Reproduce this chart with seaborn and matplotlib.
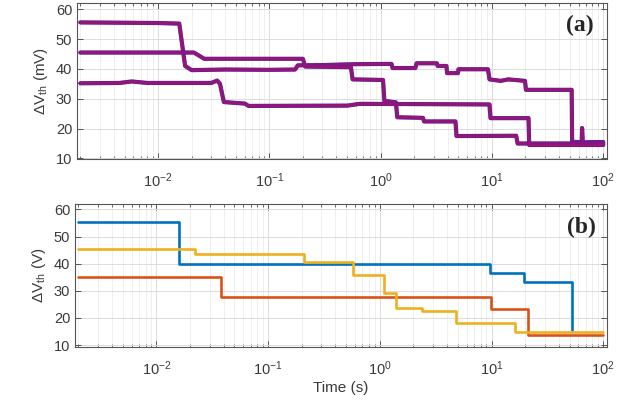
import numpy as np
import pandas as pd
import matplotlib
matplotlib.use("Agg")
import matplotlib.pyplot as plt
import seaborn as sns
from matplotlib.ticker import LogLocator

# Panel (a): measured traces (time in s, dVth in mV)
a1_t = [0.002, 0.01, 0.0155, 0.0175, 0.02, 0.04, 0.1, 0.17, 0.18, 0.3, 0.6, 1.25, 1.28, 2.05, 2.1,
        3.2, 3.25, 3.9, 3.95, 4.95, 5.0, 9.2, 9.5, 12, 14, 19.8, 20.2, 52, 52.5, 64, 64.5, 65.5, 100]
a1_v = [55.6, 55.4, 55.2, 41, 39.6, 39.8, 39.7, 39.8, 41.2, 41.3, 41.6, 41.7, 40.3, 40.3, 41.9,
        41.9, 41.0, 41.0, 38.6, 38.6, 39.9, 39.9, 36.5, 36.0, 36.5, 36.0, 33.0, 33.0, 15.6, 15.4, 20.2, 15.4, 15.5]
a2_t = [0.002, 0.021, 0.026, 0.2, 0.21, 0.54, 0.56, 1.05, 1.08, 1.37, 1.41, 2.4, 2.45, 4.7, 4.8, 16.5, 17, 100]
a2_v = [45.5, 45.5, 43.4, 43.4, 40.8, 40.6, 36.5, 36.3, 29.3, 28.8, 23.8, 23.6, 22.4, 22.4, 17.5, 17.6, 15.0, 15.0]
a3_t = [0.002, 0.0045, 0.0058, 0.008, 0.03, 0.034, 0.036, 0.039, 0.05, 0.06, 0.065, 0.5, 0.65, 9.5, 9.7,
        21.3, 21.6, 100]
a3_v = [35.2, 35.3, 35.8, 35.3, 35.3, 36.1, 35.0, 28.9, 28.6, 28.4, 27.6, 27.7, 28.3, 28.1, 23.5,
        23.5, 14.5, 14.5]

# Panel (b): extracted step levels
b_blue_t = [0.002, 0.0159, 9.6, 19.7, 52.5]
b_blue_v = [55.5, 39.9, 36.5, 33.4, 15.5]
b_orange_t = [0.002, 0.038, 9.8, 21, 100]
b_orange_v = [35.2, 27.8, 23.2, 13.7, 13.7]
b_yellow_t = [0.002, 0.022, 0.209, 0.57, 1.1, 1.39, 2.4, 4.8, 16.2, 100]
b_yellow_v = [45.3, 43.6, 40.5, 35.8, 29.1, 23.5, 22.7, 18.0, 14.9, 14.9]

sns.set_style("ticks")
plt.rcParams['font.family'] = ['Liberation Sans', 'DejaVu Sans']
plt.rcParams['mathtext.default'] = 'regular'
plt.rcParams['axes.edgecolor'] = '#555555'
plt.rcParams['axes.linewidth'] = 0.8

fig = plt.figure(figsize=(6.35, 4.01), dpi=100)
ax1 = fig.add_axes([0.1213, 0.6027, 0.8346, 0.389])
ax2 = fig.add_axes([0.1181, 0.1354, 0.8378, 0.3559])

# blue + red traces overlapping -> purple look
for t, v in [(a1_t, a1_v), (a2_t, a2_v), (a3_t, a3_v)]:
    sns.lineplot(x=t, y=v, ax=ax1, color='#2a1fd0', lw=3.0, sort=False, estimator=None)
    sns.lineplot(x=t, y=v, ax=ax1, color='#e8102a', lw=2.6, alpha=0.55, sort=False, estimator=None)

for t, v, c in [(b_blue_t, b_blue_v, '#0072BD'), (b_orange_t, b_orange_v, '#D95319'),
                (b_yellow_t, b_yellow_v, '#EDB120')]:
    sns.lineplot(x=t, y=v, ax=ax2, color=c, lw=1.9, drawstyle='steps-post', sort=False, estimator=None)

for ax, ylim in [(ax1, (9.7, 62)), (ax2, (9.4, 62))]:
    ax.set_xscale('log')
    ax.set_xlim(0.00187, 108)
    ax.set_ylim(*ylim)
    ax.set_yticks([10, 20, 30, 40, 50, 60])
    ax.xaxis.set_major_locator(LogLocator(base=10, numticks=10))
    ax.xaxis.set_minor_locator(LogLocator(base=10, subs=np.arange(2, 10), numticks=20))
    ax.grid(True, which='major', color='#dcdcdc', lw=0.7)
    ax.grid(True, which='minor', axis='x', color='#ececec', lw=0.6)
    ax.set_axisbelow(True)
    ax.tick_params(which='both', direction='in', top=True, right=True, colors='#555555',
                   labelcolor='#3a3a3a', labelsize=10.5)
    ax.tick_params(which='major', length=4, width=0.7)
    ax.tick_params(which='minor', length=2, width=0.6)
    ax.tick_params(axis='x', pad=9)
    for s in ax.spines.values():
        s.set_visible(True)

ax1.set_ylabel(r'$\Delta$V$_{th}$ (mV)', fontsize=11, color='#3a3a3a', labelpad=4)
ax2.set_ylabel(r'$\Delta$V$_{th}$ (V)', fontsize=11, color='#3a3a3a', labelpad=4)
ax2.set_xlabel('Time (s)', fontsize=11, color='#3a3a3a', labelpad=2)
ax1.set_xlabel('')

ax1.text(0.974, 0.86, '(a)', transform=ax1.transAxes, ha='right', va='center',
         fontsize=17, fontweight='bold', family='Liberation Serif')
ax2.text(0.98, 0.837, '(b)', transform=ax2.transAxes, ha='right', va='center',
         fontsize=17, fontweight='bold', family='Liberation Serif')

fig.savefig('out.png', dpi=100)
